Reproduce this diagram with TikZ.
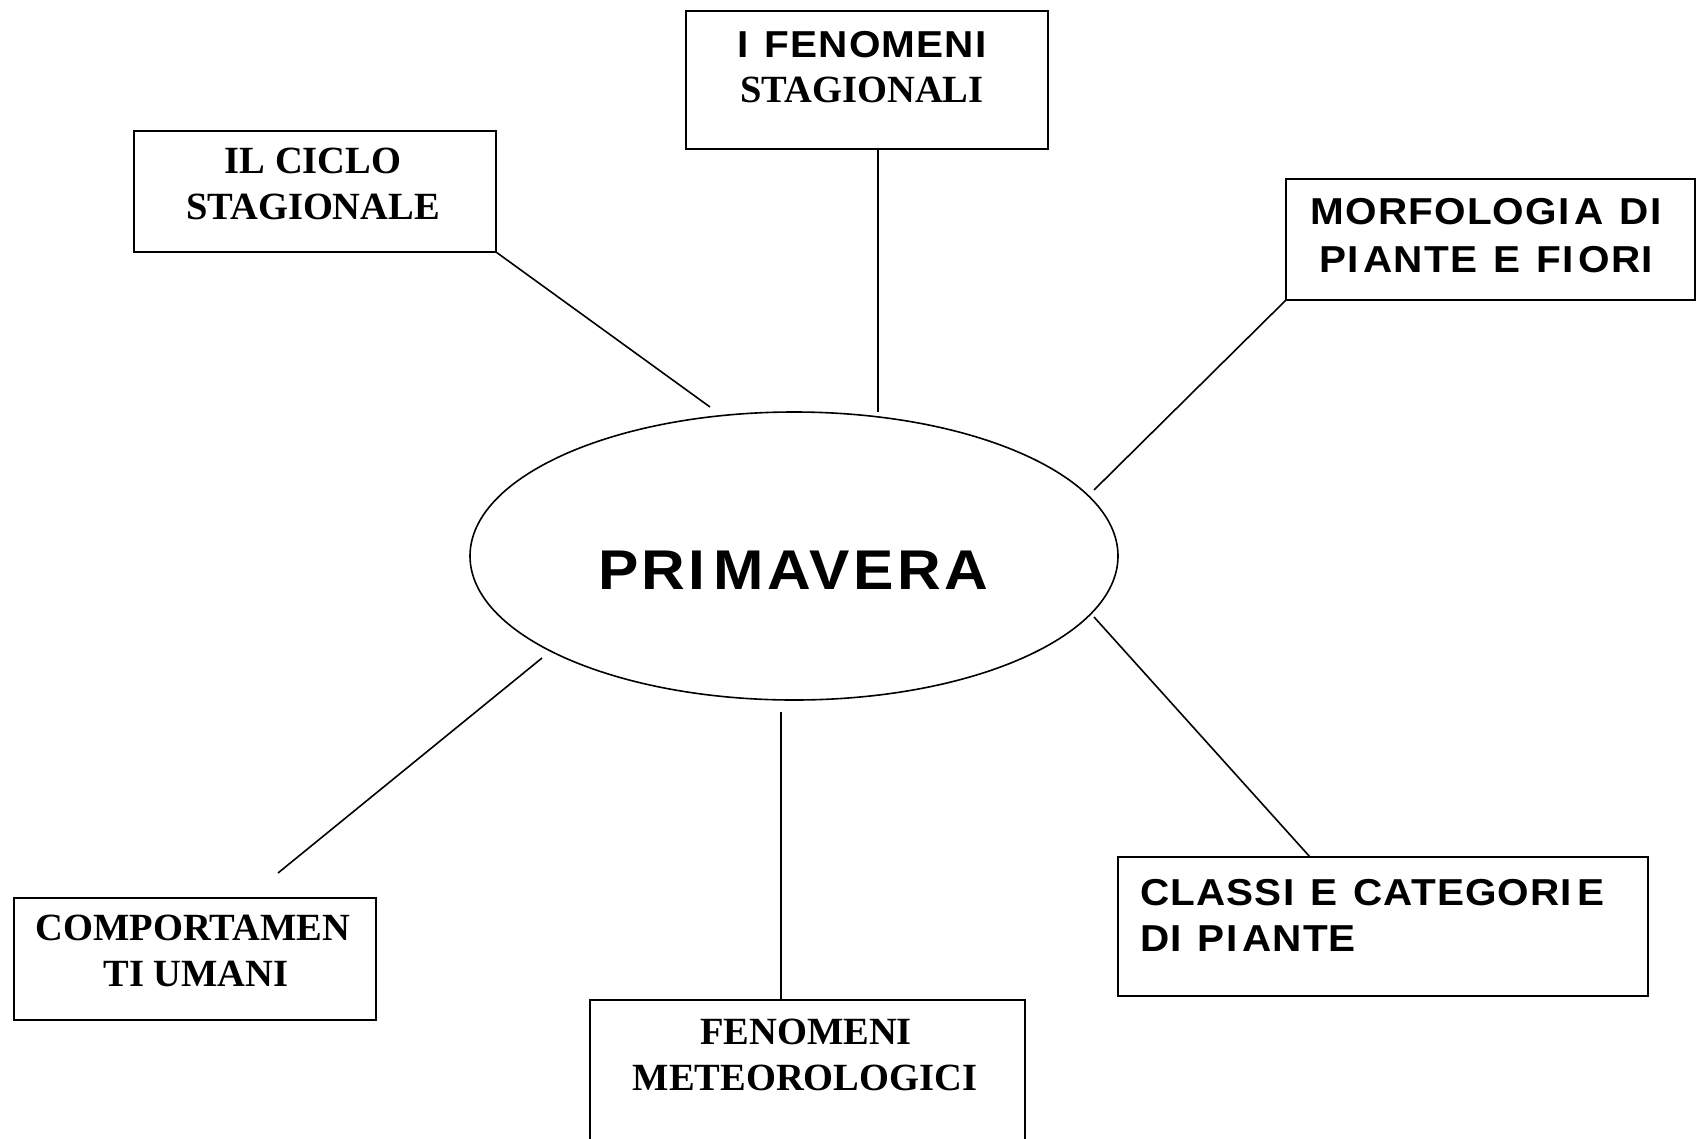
\documentclass[tikz,border=0pt]{standalone}
\usepackage{fontspec}
\setmainfont{Liberation Serif}
\newfontfamily\sansb[FakeStretch=1.08,LetterSpace=3,WordSpace=1.3]{Liberation Sans}
\newfontfamily\sansbig[FakeStretch=1.08,LetterSpace=6]{Liberation Sans}
\usetikzlibrary{shapes.geometric,calc}
\newcommand\Ik{I\kern5pt}
\begin{document}
\begin{tikzpicture}[x=1pt,y=-1pt,
  box/.style={draw, line width=1.6pt, rectangle, inner sep=0pt, outer sep=0pt},
  conn/.style={line width=1.6pt},
  serif/.style={font=\bfseries\fontsize{38.5}{40}\selectfont, inner sep=0pt, anchor=base},
  sans/.style={font=\sansb\bfseries\fontsize{37.5}{40}\selectfont, inner sep=0pt, anchor=base},
  big/.style={font=\sansbig\bfseries\fontsize{56}{60}\selectfont, inner sep=0pt, anchor=base}]
\path[fill=white, use as bounding box] (0,0) rectangle (1697,1138);

% boxes
\node[box, minimum width=362pt, minimum height=138pt] (fen) at (867,80) {};
\node[box, minimum width=362pt, minimum height=121pt] (ciclo) at (315,191.5) {};
\node[box, minimum width=409pt, minimum height=121pt] (morf) at (1490.5,239.5) {};
\node[box, minimum width=362pt, minimum height=122pt] (comp) at (195,959) {};
\node[box, minimum width=435pt, minimum height=160pt] (meteo) at (807.5,1080) {};
\node[box, minimum width=530pt, minimum height=139pt] (classi) at (1383,926.5) {};
\node[draw, ellipse, line width=1.6pt, minimum width=648pt, minimum height=288pt, inner sep=0pt] (prim) at (794,556) {};

% texts
\node[sans] (fen1) at (862,57) {I FENOMENI};
\node[serif] (fen2) at (862,102) {STAGIONALI};
\node[serif] (ciclo1) at (313,173) {IL CICLO};
\node[serif] (ciclo2) at (313,219) {STAGIONALE};
\node[sans] (morf1) at (1486,224) {MORFOLOG\Ik A DI};
\node[sans] (morf2) at (1486,272) {P\Ik ANTE E F\Ik ORI};
\node[serif] (comp1) at (193,940) {COMPORTAMEN};
\node[serif] (comp2) at (196,986) {TI UMANI};
\node[serif] (meteo1) at (806,1044) {FENOMENI};
\node[serif] (meteo2) at (805,1090) {METEOROLOGICI};
\node[sans, anchor=base west] (classi1) at (1140,905) {CLASSI E CATEGOR\Ik E};
\node[sans, anchor=base west] (classi2) at (1140,951) {DI P\Ik ANTE};
\node[big] (primt) at (793,589) {PRI\kern8pt MAVERA};

% free ends near the ellipse
\coordinate (e1) at (710,407);
\coordinate (e2) at (878,412);
\coordinate (e3) at (1094,490);
\coordinate (e4) at (1094,617);
\coordinate (e5) at (781,712);
\coordinate (e6) at (542,658);

% connectors
\draw[conn] (ciclo.south east) -- (e1);
\draw[conn] (e2 |- fen.south) -- (e2);
\draw[conn] (morf.south west) -- (e3);
\draw[conn] (e4) -- ($(classi.north west)+(192,0)$);
\draw[conn] (e5) -- (e5 |- meteo.north);
\draw[conn] (e6) -- ($(comp.north)+(83,-25)$);
\end{tikzpicture}
\end{document}
